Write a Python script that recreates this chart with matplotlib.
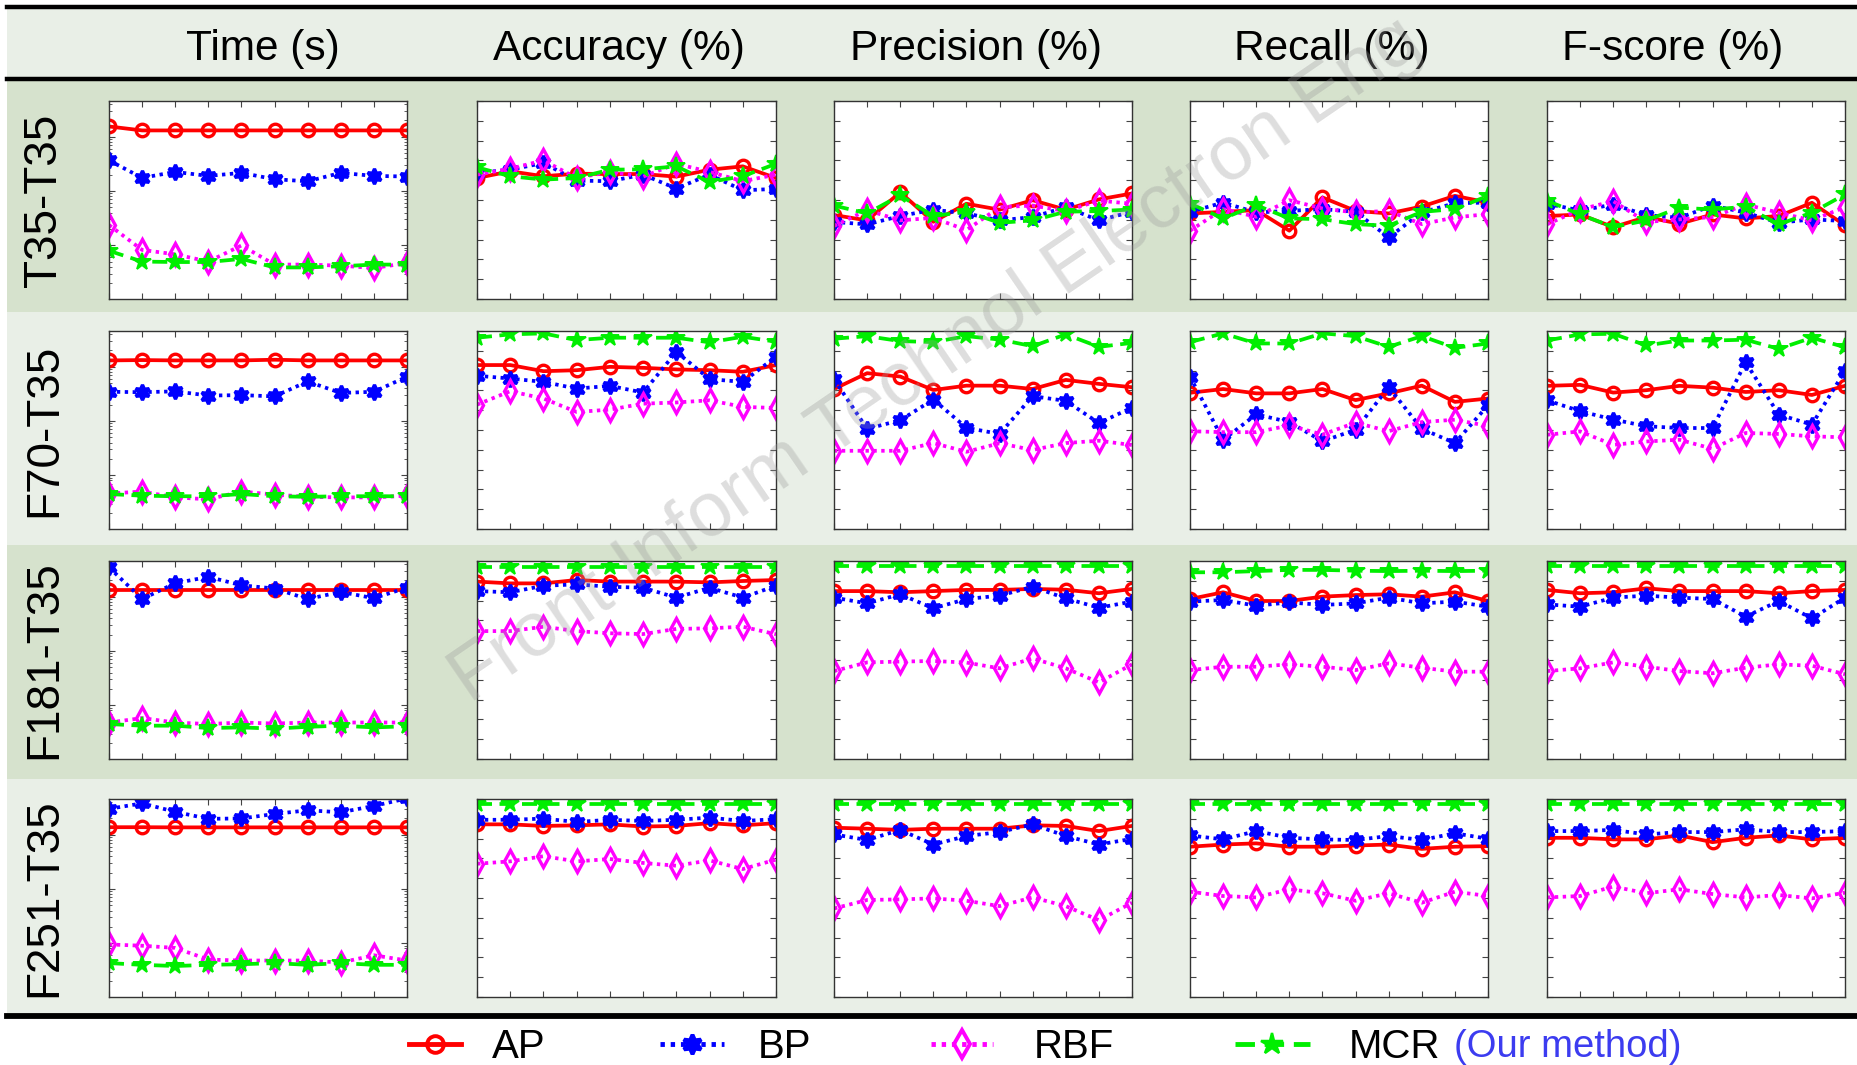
import numpy as np
import matplotlib
matplotlib.use('Agg')
import matplotlib.pyplot as plt
from matplotlib.patches import Rectangle
from matplotlib.lines import Line2D

plt.rcParams['font.family'] = ['Liberation Sans', 'DejaVu Sans']

# ---------------- data ----------------
runs = np.arange(1, 11)
row_labels = ['T35-T35', 'F70-T35', 'F181-T35', 'F251-T35']
col_titles = ['Time (s)', 'Accuracy (%)', 'Precision (%)', 'Recall (%)', 'F-score (%)']
methods = ['AP', 'BP', 'RBF', 'MCR']

# time (s), log axis
time_AP = [[155, 131, 131, 131, 131, 131, 131, 131, 131, 131],
           [131, 133, 131, 131, 131, 135, 131, 131, 131, 131],
           [135, 135, 135, 135, 135, 135, 135, 135, 135, 135],
           [138, 138, 137, 137, 137, 137, 137, 137, 137, 137]]
time_BP = [[36.7, 17.5, 22.5, 19.0, 21.6, 16.5, 15.1, 21.6, 19.0, 18.5],
           [34.6, 34.0, 35.2, 29.5, 30.0, 28.5, 53.6, 32.9, 34.6, 65.6],
           [349, 91, 178, 233, 163, 142, 91, 123, 94, 148],
           [301, 380, 265, 197, 200, 242, 283, 260, 340, 470]]
time_RBF = [[2.36, 0.82, 0.68, 0.50, 0.99, 0.44, 0.44, 0.42, 0.38, 0.47],
            [0.46, 0.50, 0.39, 0.36, 0.50, 0.44, 0.40, 0.39, 0.39, 0.42],
            [0.48, 0.58, 0.48, 0.45, 0.48, 0.46, 0.48, 0.48, 0.48, 0.48],
            [0.95, 0.90, 0.82, 0.50, 0.48, 0.48, 0.48, 0.44, 0.60, 0.48]]
time_MCR = [[0.79, 0.50, 0.49, 0.49, 0.56, 0.39, 0.39, 0.41, 0.44, 0.44],
            [0.45, 0.42, 0.41, 0.41, 0.45, 0.41, 0.40, 0.41, 0.41, 0.41],
            [0.45, 0.42, 0.42, 0.38, 0.39, 0.37, 0.40, 0.42, 0.39, 0.41],
            [0.43, 0.40, 0.38, 0.40, 0.41, 0.43, 0.40, 0.43, 0.40, 0.40]]

acc_AP = [[61.1, 64.5, 62.0, 63.3, 63.1, 63.1, 61.8, 65.3, 67.0, 61.1],
          [82.8, 82.8, 79.7, 80.2, 81.9, 81.4, 80.6, 80.2, 79.4, 82.8],
          [89.6, 88.7, 88.7, 90.4, 89.6, 89.6, 89.6, 89.2, 89.9, 90.4],
          [87.2, 87.2, 86.4, 86.7, 87.2, 86.1, 86.4, 87.8, 86.7, 87.8]]
acc_BP = [[63.7, 65.3, 68.7, 59.8, 59.5, 62.8, 55.8, 62.8, 54.9, 55.6],
          [77.4, 76.0, 74.3, 70.9, 72.3, 68.9, 89.5, 75.7, 74.3, 87.0],
          [84.8, 84.2, 87.5, 88.2, 87.0, 86.5, 81.5, 86.5, 81.5, 87.5],
          [89.5, 89.5, 90.1, 88.4, 89.5, 88.9, 89.5, 90.6, 88.9, 89.8]]
acc_RBF = [[62.8, 65.8, 70.0, 61.1, 64.2, 61.8, 68.3, 64.2, 59.5, 62.8],
           [62.8, 69.6, 65.9, 59.1, 60.3, 63.3, 63.9, 65.0, 61.7, 61.1],
           [64.6, 64.6, 66.8, 64.6, 63.5, 63.1, 65.7, 66.0, 66.8, 63.0],
           [67.3, 68.5, 71.1, 68.5, 69.7, 67.7, 66.3, 69.0, 64.6, 69.4]]
acc_MCR = [[66.5, 62.0, 60.3, 61.1, 65.3, 65.5, 67.0, 59.1, 62.0, 68.3],
           [96.6, 98.3, 98.8, 95.4, 96.6, 96.6, 96.6, 94.3, 97.1, 94.6],
           [97.1, 97.1, 97.1, 97.1, 97.1, 97.1, 97.1, 97.1, 97.1, 97.1],
           [97.5, 97.5, 97.5, 97.5, 97.5, 97.5, 97.5, 97.5, 97.5, 97.5]]

prec_AP = [[42.4, 39.7, 53.9, 39.0, 48.1, 45.1, 49.9, 45.1, 50.3, 53.3],
           [70.7, 78.7, 77.0, 70.2, 72.4, 72.4, 70.7, 75.3, 73.3, 71.6],
           [84.8, 84.8, 84.2, 84.8, 85.4, 85.4, 85.9, 85.5, 83.7, 85.9],
           [85.5, 85.0, 84.4, 85.0, 85.0, 85.0, 86.7, 86.4, 83.8, 86.4]]
prec_BP = [[38.9, 37.7, 41.9, 45.1, 43.2, 39.7, 41.4, 46.4, 39.7, 44.1],
           [75.6, 50.6, 54.9, 65.4, 51.1, 48.0, 67.1, 64.7, 53.5, 61.3],
           [81.5, 78.6, 83.2, 76.1, 80.8, 82.5, 87.0, 81.1, 76.4, 79.5],
           [82.1, 79.3, 84.4, 77.0, 81.3, 83.3, 87.2, 81.3, 77.0, 79.9]]
prec_RBF = [[36.9, 44.9, 39.7, 41.0, 34.8, 46.4, 47.2, 44.4, 49.7, 48.1],
            [39.5, 39.5, 39.5, 43.4, 39.0, 43.3, 39.9, 43.4, 44.6, 42.4],
            [44.4, 48.8, 49.2, 49.5, 48.7, 45.8, 50.8, 45.8, 38.7, 47.8],
            [44.7, 49.0, 49.3, 49.8, 48.6, 45.9, 50.3, 45.9, 38.8, 47.6]]
prec_MCR = [[47.2, 43.2, 52.3, 41.9, 44.1, 38.5, 39.7, 44.1, 44.4, 45.2],
            [96.1, 97.4, 94.9, 94.4, 97.4, 95.7, 92.3, 98.3, 92.0, 94.0],
            [97.5, 97.5, 97.5, 97.5, 97.5, 97.5, 97.5, 97.5, 97.5, 97.5],
            [97.5, 97.5, 97.5, 97.5, 97.5, 97.5, 97.5, 97.5, 97.5, 97.5]]

rec_AP = [[43.2, 44.0, 44.9, 34.5, 51.3, 44.5, 43.2, 46.7, 52.1, 48.7],
          [68.8, 70.7, 68.5, 68.5, 70.7, 65.1, 68.5, 72.4, 64.2, 65.9],
          [80.8, 84.2, 79.8, 79.8, 82.0, 82.8, 83.2, 82.0, 84.2, 79.8],
          [75.9, 77.0, 77.6, 75.9, 75.9, 76.5, 77.0, 74.8, 75.9, 76.2]]
rec_BP = [[44.0, 48.7, 43.7, 44.5, 45.4, 44.0, 31.1, 43.7, 48.4, 48.7],
          [77.0, 45.0, 57.9, 54.0, 44.3, 50.1, 71.6, 50.6, 43.4, 62.5],
          [79.5, 80.3, 77.4, 79.1, 77.8, 78.6, 81.5, 78.6, 79.5, 76.9],
          [81.6, 79.6, 83.8, 80.4, 79.6, 79.3, 81.3, 79.3, 82.7, 79.9]]
rec_RBF = [[34.5, 45.4, 41.5, 49.9, 45.7, 43.7, 44.5, 37.8, 41.2, 42.9],
           [49.4, 48.9, 48.9, 52.3, 47.7, 53.7, 49.4, 54.0, 55.2, 52.0],
           [44.9, 46.6, 46.6, 47.8, 46.6, 44.9, 48.3, 46.1, 44.1, 44.1],
           [53.2, 51.0, 50.3, 54.4, 52.4, 48.6, 52.4, 47.6, 53.2, 51.0]]
rec_MCR = [[48.2, 40.7, 47.4, 40.7, 40.3, 37.8, 37.0, 44.0, 45.4, 52.1],
           [94.4, 98.8, 93.7, 93.7, 98.8, 97.4, 92.0, 97.4, 91.5, 93.7],
           [94.3, 94.3, 94.9, 95.5, 95.5, 95.1, 94.9, 95.1, 94.9, 95.1],
           [97.5, 97.5, 97.5, 97.5, 97.5, 97.5, 97.5, 97.5, 97.5, 97.5]]

f_AP = [[41.9, 42.7, 36.3, 41.4, 38.0, 42.7, 40.7, 41.9, 48.6, 37.2],
        [72.3, 72.8, 68.9, 70.1, 72.3, 71.4, 69.2, 70.1, 67.7, 72.3],
        [85.4, 83.7, 84.2, 86.2, 84.8, 84.8, 84.8, 83.7, 84.8, 85.4],
        [80.4, 80.4, 79.6, 79.6, 81.6, 78.2, 80.4, 81.6, 79.6, 80.4]]
f_BP = [[48.1, 44.7, 47.7, 42.4, 41.0, 47.2, 43.6, 38.5, 40.2, 39.4],
        [65.0, 59.5, 55.3, 51.9, 51.0, 51.0, 84.2, 57.8, 52.7, 79.9],
        [78.1, 76.9, 81.5, 82.5, 81.5, 80.8, 71.9, 79.8, 71.0, 81.5],
        [83.8, 83.8, 84.4, 82.1, 83.3, 83.3, 84.7, 83.3, 83.3, 83.8]]
f_RBF = [[37.7, 45.2, 49.4, 38.9, 40.2, 41.4, 47.7, 43.6, 39.7, 46.4],
         [47.6, 49.3, 42.5, 44.2, 45.1, 40.5, 48.5, 48.0, 46.8, 46.3],
         [44.4, 45.8, 48.8, 46.6, 44.4, 43.3, 46.1, 47.8, 47.1, 42.8],
         [50.3, 51.0, 55.8, 52.4, 54.4, 52.0, 50.3, 51.5, 49.8, 52.7]]
f_MCR = [[49.7, 42.7, 36.3, 39.7, 46.1, 45.2, 46.6, 37.7, 43.6, 52.8],
         [95.2, 98.3, 98.6, 92.7, 95.2, 95.2, 95.6, 91.0, 96.6, 91.8],
         [97.5, 97.5, 97.5, 97.5, 97.5, 97.5, 97.5, 97.5, 97.5, 97.5],
         [97.5, 97.5, 97.5, 97.5, 97.5, 97.5, 97.5, 97.5, 97.5, 97.5]]

metric_data = [
    [time_AP, time_BP, time_RBF, time_MCR],
    [acc_AP, acc_BP, acc_RBF, acc_MCR],
    [prec_AP, prec_BP, prec_RBF, prec_MCR],
    [rec_AP, rec_BP, rec_RBF, rec_MCR],
    [f_AP, f_BP, f_RBF, f_MCR],
]

# ---------------- styles ----------------
styles = {
    'AP':  dict(color='#ff0000', ls='-', marker='o', ms=9, mfc='none', mew=2.4),
    'BP':  dict(color='#0000ff', ls=(0, (0.9, 1.2)), marker=(6, 1, 0), ms=11, mfc='#0000ff', mew=2.4),
    'RBF': dict(color='#ff00ff', ls=(0, (0.9, 1.2)), marker='d', ms=11, mfc='none', mew=2.4),
    'MCR': dict(color='#00ee00', ls=(0, (4.0, 2.0)), marker='*', ms=13, mfc='#00ee00', mew=1.4),
}
LW = 2.7

W, H = 1857, 1065
fig = plt.figure(figsize=(W / 100, H / 100), dpi=100)

def rect(x0, y0, x1, y1):
    return [x0 / W, 1 - y1 / H, (x1 - x0) / W, (y1 - y0) / H]

dark = '#d6e2cd'
light = '#e9efe7'
band_y = [(81, 312), (312, 545), (545, 779), (779, 1013)]
fig.add_artist(Rectangle((7 / W, 1 - 78 / H), 1, 69 / H, transform=fig.transFigure,
                         color=light, zorder=-2, lw=0))
for i, (y0, y1) in enumerate(band_y):
    fig.add_artist(Rectangle((7 / W, 1 - y1 / H), 1, (y1 - y0) / H, transform=fig.transFigure,
                             color=dark if i % 2 == 0 else light, zorder=-2, lw=0))
for yy, lw in [(7, 3.2), (79, 3.2), (1016, 4.2)]:
    fig.add_artist(Line2D([7 / W, 1], [1 - yy / H] * 2, transform=fig.transFigure,
                          color='black', lw=lw, zorder=-1))

col_x = [(109, 407), (477, 776), (834, 1132), (1190, 1488), (1547, 1845)]
row_y = [(101, 299), (331, 529), (561, 759), (799, 997)]
title_x = [263, 619, 976, 1332, 1673]

for c, title in enumerate(col_titles):
    fig.text(title_x[c] / W, 1 - 60 / H, title, ha='center', va='baseline', fontsize=30.5)

for r, lab in enumerate(row_labels):
    yc = (row_y[r][0] + row_y[r][1]) / 2
    fig.text(56 / W, 1 - yc / H, lab, rotation=90, rotation_mode='anchor',
             ha='center', va='baseline', fontsize=33)

for r in range(4):
    for c in range(5):
        ax = fig.add_axes(rect(col_x[c][0], row_y[r][0], col_x[c][1], row_y[r][1]))
        ax.set_facecolor('white')
        for m, name in enumerate(methods):
            st = styles[name]
            ax.plot(runs, metric_data[c][m][r], color=st['color'], ls=st['ls'], lw=LW,
                    marker=st['marker'], ms=st['ms'], mfc=st['mfc'], mec=st['color'],
                    mew=st['mew'])
        ax.set_xlim(1, 10)
        ax.set_xticks(runs)
        if c == 0:
            ax.set_yscale('log')
            ax.set_ylim(0.102, 457)
        else:
            ax.set_ylim(0, 100)
            ax.set_yticks(np.arange(0, 101, 10))
            ax.minorticks_off()
        ax.tick_params(which='both', direction='in', top=True, right=True,
                       labelbottom=False, labelleft=False, color='#444444')
        ax.tick_params(which='major', length=4, width=0.8)
        ax.tick_params(which='minor', length=2, width=0.6)
        for sp in ax.spines.values():
            sp.set_color('#333333')
            sp.set_linewidth(1.0)

# legend: one entry per method, placed like the original
leg_x = [409, 660, 931, 1235]
leg_hlen = [1.3, 1.6, 1.55, 1.85]
leg_pad = [0.77, 0.82, 1.0, 0.97]
for i, name in enumerate(methods):
    st = styles[name]
    h = Line2D([], [], color=st['color'], ls=st['ls'], lw=LW + 0.8,
               marker=st['marker'], ms=st['ms'] + 3, mfc=st['mfc'],
               mec=st['color'], mew=st['mew'] + 0.4)
    fig.legend([h], [name], loc='center left', bbox_to_anchor=(leg_x[i] / W, 1 - 1047 / H),
               frameon=False, fontsize=29, handlelength=leg_hlen[i],
               handletextpad=leg_pad[i], borderpad=0, borderaxespad=0, numpoints=1)
fig.text(1454 / W, 1 - 1047 / H, '(Our method)', color='#3c3cf0', fontsize=27.5,
         ha='left', va='center')

# watermark
fig.text(936 / W, 1 - 361 / H, 'Front Inform Technol Electron Eng', rotation=34.4,
         ha='center', va='center', fontsize=55, color='#9a9a9a', alpha=0.33, zorder=10)

fig.savefig('out.png', dpi=100)
